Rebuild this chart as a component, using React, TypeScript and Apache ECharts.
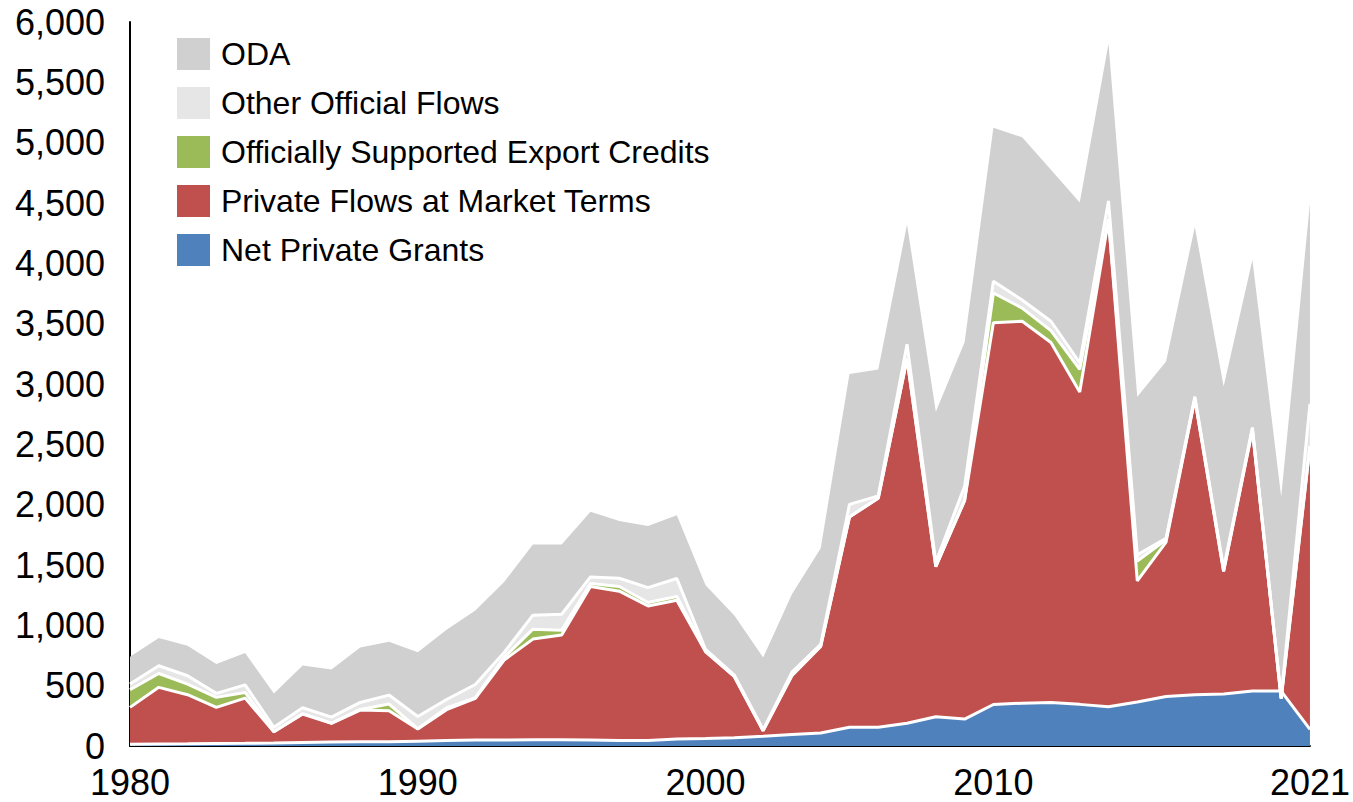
import React, { useEffect, useRef } from "react";
import * as echarts from "echarts";

const years = [
  "1980","1981","1982","1983","1984","1985","1986","1987","1988","1989",
  "1990","1991","1992","1993","1994","1995","1996","1997","1998","1999",
  "2000","2001","2002","2003","2004","2005","2006","2007","2008","2009",
  "2010","2011","2012","2013","2014","2015","2016","2017","2018","2019",
  "2020","2021",
];
const xTickLabels = ["1980", "1990", "2000", "2010", "2021"];
const yTickValues = [0, 500, 1000, 1500, 2000, 2500, 3000, 3500, 4000, 4500, 5000, 5500, 6000];

const netPrivateGrants = [
  15, 17, 18, 20, 22, 25, 30, 33, 36, 35,
  40, 45, 50, 50, 52, 52, 50, 45, 45, 58,
  62, 68, 80, 95, 108, 155, 155, 188, 242, 223,
  344, 355, 360, 345, 325, 365, 410, 425, 430, 455,
  455, 137,
];
const privateFlowsMarket = [
  305, 469, 407, 300, 375, 93, 235, 155, 262, 257,
  101, 256, 345, 662, 834, 868, 1272, 1238, 1116, 1150,
  718, 506, 47, 487, 717, 1742, 1898, 3019, 1244, 1811,
  3164, 3165, 2984, 2588, 4036, 1004, 1280, 2450, 1017, 2165,
  -64, 2346,
];
const exportCredits = [
  146, 115, 88, 83, 47, 0, 3, 2, 5, 56,
  2, 15, 5, 22, 82, 40, 24, 39, 28, 31,
  5, 2, 0, 8, 3, 3, 2, 3, 2, 2,
  246, 109, 98, 188, 4, 164, 19, 5, 3, 5,
  4, 2,
];
const otherOfficialFlows = [
  47, 64, 69, 33, 63, 37, 49, 49, 58, 74,
  102, 69, 110, 41, 116, 132, 55, 68, 124, 149,
  15, 11, 8, 22, 15, 102, 18, 120, 34, 117,
  98, 67, 78, 55, 152, 51, 12, 15, 20, 15,
  5, 350,
];
const oda = [
  226, 229, 248, 243, 263, 281, 351, 395, 455, 441,
  532, 579, 612, 585, 585, 578, 541, 475, 510, 524,
  532, 494, 599, 646, 795, 1080, 1048, 992, 1249, 1193,
  1271, 1349, 1255, 1329, 1303, 1310, 1466, 1407, 1510, 1388,
  1665, 1663,
];

const seriesDefs = [
  { name: "Net Private Grants", data: netPrivateGrants, color: "#4f81bd", edge: true },
  { name: "Private Flows at Market Terms", data: privateFlowsMarket, color: "#c0504d", edge: true },
  { name: "Officially Supported Export Credits", data: exportCredits, color: "#9bbb59", edge: true },
  { name: "Other Official Flows", data: otherOfficialFlows, color: "#e6e6e6", edge: true },
  { name: "ODA", data: oda, color: "#d0d0d0", edge: false },
];
const legendOrder = [
  "ODA",
  "Other Official Flows",
  "Officially Supported Export Credits",
  "Private Flows at Market Terms",
  "Net Private Grants",
];

const FONT = "'Liberation Sans', Arial, sans-serif";

export default function App() {
  const ref = useRef<HTMLDivElement>(null);
  useEffect(() => {
    if (!ref.current) return;
    const chart = echarts.init(ref.current, null, { renderer: "svg" });
    chart.setOption({
      animation: false,
      backgroundColor: "#ffffff",
      textStyle: { fontFamily: FONT },
      grid: { left: 130, right: 41, top: 22, bottom: 56, containLabel: false },
      legend: {
        data: legendOrder,
        orient: "vertical",
        left: 172,
        top: 33,
        icon: "rect",
        itemWidth: 33,
        itemHeight: 32,
        itemGap: 17,
        itemStyle: { borderWidth: 0 },
        textStyle: {
          fontSize: 32,
          lineHeight: 32,
          color: "#000",
          fontFamily: FONT,
          padding: [0, 0, 0, 6],
        },
        selectedMode: false,
      },
      xAxis: {
        type: "category",
        data: years,
        boundaryGap: false,
        axisLine: { show: true, lineStyle: { color: "#000", width: 2 } },
        axisTick: { show: false },
        splitLine: { show: false },
        axisLabel: {
          interval: (idx: number, val: string) => xTickLabels.includes(val),
          fontSize: 36,
          color: "#000",
          fontFamily: FONT,
          margin: 18,
        },
      },
      yAxis: {
        type: "value",
        min: 0,
        max: 6000,
        interval: 500,
        axisLine: { show: true, lineStyle: { color: "#000", width: 2 } },
        axisTick: { show: false },
        splitLine: { show: false },
        axisLabel: {
          fontSize: 36,
          color: "#000",
          fontFamily: FONT,
          margin: 25,
          formatter: (v: number) =>
            yTickValues.includes(v) ? v.toLocaleString("en-US") : "",
        },
      },
      series: seriesDefs.map((s) => ({
        name: s.name,
        type: "line",
        stack: "total",
        stackStrategy: "all",
        data: s.data,
        symbol: "none",
        showSymbol: false,
        color: s.color,
        itemStyle: { color: s.color },
        lineStyle: s.edge
          ? { color: "#ffffff", width: 3 }
          : { color: s.color, width: 0, opacity: 0 },
        areaStyle: { color: s.color, opacity: 1 },
      })),
    });
    return () => chart.dispose();
  }, []);
  return (
    <div
      ref={ref}
      style={{ position: "absolute", left: 0, top: 0, width: 1353, height: 802 }}
    />
  );
}
